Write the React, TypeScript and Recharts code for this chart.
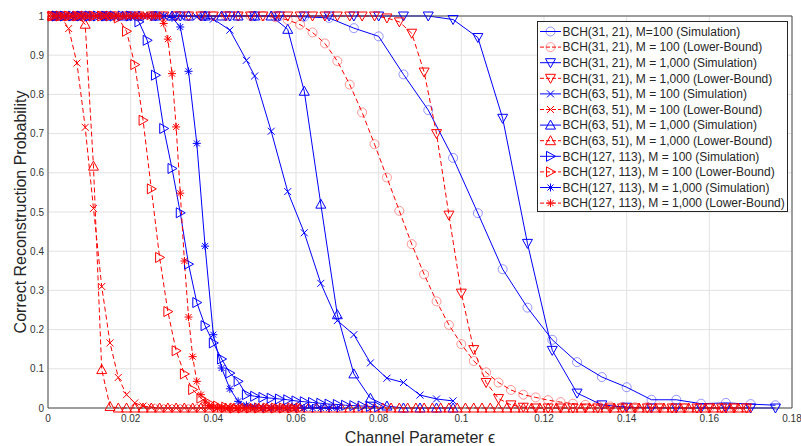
import React from 'react';
import { LineChart, Line, XAxis, YAxis, CartesianGrid, Legend, Label } from 'recharts';

const FONT = '"Liberation Sans", Arial, Helvetica, sans-serif';

// ---------- tick labels ----------
const xTicks = [0, 0.02, 0.04, 0.06, 0.08, 0.1, 0.12, 0.14, 0.16, 0.18];
const xTickLabels = ['0', '0.02', '0.04', '0.06', '0.08', '0.1', '0.12', '0.14', '0.16', '0.18'];
const yTicks = [0, 0.1, 0.2, 0.3, 0.4, 0.5, 0.6, 0.7, 0.8, 0.9, 1];
const yTickLabels = ['0', '0.1', '0.2', '0.3', '0.4', '0.5', '0.6', '0.7', '0.8', '0.9', '1'];

// ---------- x sampling grids ----------
const xsSimStep006 = [0.002, 0.008, 0.014, 0.020, 0.026, 0.032, 0.038, 0.044, 0.050, 0.056,
  0.062, 0.068, 0.074, 0.080, 0.086, 0.092, 0.098, 0.104, 0.110, 0.116,
  0.122, 0.128, 0.134, 0.140, 0.146, 0.152, 0.158, 0.164, 0.170, 0.176];

const xsBoundStep003 = [0.001, 0.004, 0.007, 0.010, 0.013, 0.016, 0.019, 0.022, 0.025, 0.028,
  0.031, 0.034, 0.037, 0.040, 0.043, 0.046, 0.049, 0.052, 0.055, 0.058,
  0.061, 0.064, 0.067, 0.070, 0.073, 0.076, 0.079, 0.082, 0.085, 0.088,
  0.091, 0.094, 0.097, 0.100, 0.103, 0.106, 0.109, 0.112, 0.115, 0.118,
  0.121, 0.124, 0.127, 0.130, 0.133, 0.136, 0.139, 0.142, 0.145, 0.148,
  0.151, 0.154, 0.157, 0.160, 0.163, 0.166, 0.169];

const xsBch63M100Sim = [0.004, 0.008, 0.012, 0.016, 0.020, 0.024, 0.028, 0.032, 0.036, 0.040,
  0.044, 0.048, 0.050, 0.054, 0.058, 0.062, 0.066, 0.070, 0.074, 0.078,
  0.082, 0.086, 0.090, 0.094, 0.098];

const xsOddTo061 = [0.001, 0.003, 0.005, 0.007, 0.009, 0.011, 0.013, 0.015, 0.017, 0.019,
  0.021, 0.023, 0.025, 0.027, 0.029, 0.031, 0.033, 0.035, 0.037, 0.039,
  0.041, 0.043, 0.045, 0.047, 0.049, 0.051, 0.053, 0.055, 0.057, 0.059,
  0.061];

const xsOddTo169 = [0.001, 0.003, 0.005, 0.007, 0.009, 0.011, 0.013, 0.015, 0.017, 0.019,
  0.021, 0.023, 0.025, 0.027, 0.029, 0.031, 0.033, 0.035, 0.037, 0.039,
  0.041, 0.043, 0.045, 0.047, 0.049, 0.051, 0.053, 0.055, 0.057, 0.059,
  0.061, 0.063, 0.065, 0.067, 0.069, 0.071, 0.073, 0.075, 0.077, 0.079,
  0.081, 0.083, 0.085, 0.087, 0.089, 0.091, 0.093, 0.095, 0.097, 0.099,
  0.101, 0.103, 0.105, 0.107, 0.109, 0.111, 0.113, 0.115, 0.117, 0.119,
  0.121, 0.123, 0.125, 0.127, 0.129, 0.131, 0.133, 0.135, 0.137, 0.139,
  0.141, 0.143, 0.145, 0.147, 0.149, 0.151, 0.153, 0.155, 0.157, 0.159,
  0.161, 0.163, 0.165, 0.167, 0.169];

const xsBch63M1000Sim = [0.002, 0.006, 0.010, 0.014, 0.018, 0.022, 0.026, 0.030, 0.034, 0.038,
  0.042, 0.046, 0.050, 0.054, 0.058, 0.062, 0.066, 0.070, 0.074, 0.078,
  0.082, 0.086, 0.090, 0.094, 0.098];

const xsEvenTo080 = [0.002, 0.004, 0.006, 0.008, 0.010, 0.012, 0.014, 0.016, 0.018, 0.020,
  0.022, 0.024, 0.026, 0.028, 0.030, 0.032, 0.034, 0.036, 0.038, 0.040,
  0.042, 0.044, 0.046, 0.048, 0.050, 0.052, 0.054, 0.056, 0.058, 0.060,
  0.062, 0.064, 0.066, 0.068, 0.070, 0.072, 0.074, 0.076, 0.078, 0.080];

const xsEvenTo070 = [0.002, 0.004, 0.006, 0.008, 0.010, 0.012, 0.014, 0.016, 0.018, 0.020,
  0.022, 0.024, 0.026, 0.028, 0.030, 0.032, 0.034, 0.036, 0.038, 0.040,
  0.042, 0.044, 0.046, 0.048, 0.050, 0.052, 0.054, 0.056, 0.058, 0.060,
  0.062, 0.064, 0.066, 0.068, 0.070];

const xsStep001 = [0.001, 0.002, 0.003, 0.004, 0.005, 0.006, 0.007, 0.008, 0.009, 0.010,
  0.011, 0.012, 0.013, 0.014, 0.015, 0.016, 0.017, 0.018, 0.019, 0.020,
  0.021, 0.022, 0.023, 0.024, 0.025, 0.026, 0.027, 0.028, 0.029, 0.030,
  0.031, 0.032, 0.033, 0.034, 0.035, 0.036, 0.037, 0.038, 0.039, 0.040,
  0.041, 0.042, 0.043, 0.044, 0.045, 0.046, 0.047, 0.048, 0.049, 0.050,
  0.051, 0.052, 0.053, 0.054, 0.055, 0.056, 0.057, 0.058, 0.059, 0.060];

// ---------- series values ----------
const ysBch31M100Sim = [1, 1, 1, 1, 1, 1, 1, 1, 1, 1,
  0.998, 0.995, 0.969, 0.948, 0.851, 0.760, 0.638, 0.497, 0.354, 0.256,
  0.174, 0.117, 0.079, 0.053, 0.021, 0.021, 0.011, 0.013, 0.010, 0.007];

const ysBch31M100Lb = [1, 1, 1, 1, 1, 1, 1, 1, 1, 1,
  1, 1, 1, 1, 1, 1, 1, 1, 0.997, 0.990,
  0.978, 0.958, 0.930, 0.885, 0.825, 0.754, 0.673, 0.588, 0.503, 0.418,
  0.341, 0.272, 0.212, 0.163, 0.120, 0.091, 0.065, 0.046, 0.034, 0.027,
  0.020, 0.015, 0.011, 0.008, 0.006, 0.004, 0.003, 0.002, 0.002, 0.001,
  0, 0, 0, 0, 0, 0, 0];

const ysBch31M1000Sim = [1, 1, 1, 1, 1, 1, 1, 1, 1, 1,
  1, 1, 1, 1, 1, 1, 0.991, 0.945, 0.739, 0.420,
  0.147, 0.038, 0.008, 0.002, 0, 0, 0, 0, 0, 0];

const ysBch31M1000Lb = [1, 1, 1, 1, 1, 1, 1, 1, 1, 1,
  1, 1, 1, 1, 1, 1, 1, 1, 1, 1,
  1, 1, 1, 1, 1, 1, 1, 0.995, 0.985, 0.956,
  0.857, 0.700, 0.492, 0.293, 0.149, 0.065, 0.024, 0.008, 0.002, 0,
  0, 0, 0, 0, 0, 0, 0, 0, 0, 0,
  0, 0, 0, 0, 0, 0, 0];

const ysBch63M100Sim = [1, 1, 1, 1, 1, 1, 1, 1, 0.998, 0.992,
  0.964, 0.887, 0.847, 0.706, 0.552, 0.447, 0.318, 0.223, 0.187, 0.115,
  0.076, 0.065, 0.033, 0.023, 0.018];

const ysBch63M100Lb = [1, 1, 0.968, 0.880, 0.716, 0.509, 0.310, 0.166, 0.078, 0.034,
  0.013, 0.005, 0.002, 0, 0, 0, 0, 0, 0, 0,
  0, 0, 0, 0, 0, 0, 0, 0, 0, 0,
  0];

const ysBch63M1000Sim = [1, 1, 1, 1, 1, 1, 1, 1, 1, 1,
  1, 1, 1, 1, 0.966, 0.808, 0.520, 0.238, 0.087, 0.025,
  0.005, 0, 0, 0, 0];

const ysBch63M1000Lb = [1, 1, 1, 1, 0.979, 0.617, 0.098, 0.004, 0, 0,
  0, 0, 0, 0, 0, 0, 0, 0, 0, 0,
  0, 0, 0, 0, 0, 0, 0, 0, 0, 0,
  0, 0, 0, 0, 0, 0, 0, 0, 0, 0,
  0, 0, 0, 0, 0, 0, 0, 0, 0, 0,
  0, 0, 0, 0, 0, 0, 0, 0, 0, 0,
  0, 0, 0, 0, 0, 0, 0, 0, 0, 0,
  0, 0, 0, 0, 0, 0, 0, 0, 0, 0,
  0, 0, 0, 0, 0];

const ysBch127M100Sim = [1, 1, 1, 1, 1, 1, 1, 1, 1, 1,
  0.985, 0.938, 0.849, 0.713, 0.611, 0.498, 0.367, 0.269, 0.210, 0.166,
  0.125, 0.089, 0.068, 0.034, 0.030, 0.027, 0.025, 0.023, 0.021, 0.018,
  0.016, 0.014, 0.012, 0.010, 0.009, 0.007, 0.006, 0.005, 0.004, 0.003];

const ysBch127M100Lb = [1, 1, 1, 1, 1, 1, 1, 1, 0.995, 0.961,
  0.876, 0.734, 0.559, 0.384, 0.246, 0.146, 0.087, 0.047, 0.025, 0.012,
  0.005, 0.002, 0, 0, 0, 0, 0, 0, 0, 0,
  0];

const ysBch127M1000Sim = [1, 1, 1, 1, 1, 1, 1, 1, 1, 1,
  1, 1, 1, 1, 0.996, 0.972, 0.859, 0.675, 0.413, 0.187,
  0.102, 0.049, 0.017, 0.007, 0.003, 0, 0, 0, 0, 0,
  0, 0, 0, 0, 0];

const ysBch127M1000Lb = [1, 1, 1, 1, 1, 1, 1, 1, 1, 1,
  1, 1, 1, 1, 1, 1, 1, 1, 1, 1,
  1, 1, 1, 1, 1, 1, 1, 0.981, 0.941, 0.853,
  0.717, 0.548, 0.375, 0.232, 0.131, 0.068, 0.034, 0.015, 0.006, 0.002,
  0, 0, 0, 0, 0, 0, 0, 0, 0, 0,
  0, 0, 0, 0, 0, 0, 0, 0, 0, 0];

const seriesNames = [
  'BCH(31, 21), M=100 (Simulation)',
  'BCH(31, 21), M = 100 (Lower-Bound)',
  'BCH(31, 21), M = 1,000 (Simulation)',
  'BCH(31, 21), M = 1,000 (Lower-Bound)',
  'BCH(63, 51), M = 100 (Simulation)',
  'BCH(63, 51), M = 100 (Lower-Bound)',
  'BCH(63, 51), M = 1,000 (Simulation)',
  'BCH(63, 51), M = 1,000 (Lower-Bound)',
  'BCH(127, 113), M = 100 (Simulation)',
  'BCH(127, 113), M = 100 (Lower-Bound)',
  'BCH(127, 113), M = 1,000 (Simulation)',
  'BCH(127, 113), M = 1,000 (Lower-Bound)',
];

const seriesXs = [xsSimStep006, xsBoundStep003, xsSimStep006, xsBoundStep003,
  xsBch63M100Sim, xsOddTo061, xsBch63M1000Sim, xsOddTo169,
  xsEvenTo080, xsOddTo061, xsEvenTo070, xsStep001];
const seriesYs = [ysBch31M100Sim, ysBch31M100Lb, ysBch31M1000Sim, ysBch31M1000Lb,
  ysBch63M100Sim, ysBch63M100Lb, ysBch63M1000Sim, ysBch63M1000Lb,
  ysBch127M100Sim, ysBch127M100Lb, ysBch127M1000Sim, ysBch127M1000Lb];

// ---------- styles (kept apart from the data) ----------
const BLUE = '#0000ff';
const RED = '#ff0000';
type Shape = 'o' | 'v' | '^' | '>' | 'x' | '*';
const seriesStyles: { shape: Shape; color: string; dashed: boolean; markerOpacity: number }[] = [
  { shape: 'o', color: BLUE, dashed: false, markerOpacity: 0.4 },
  { shape: 'o', color: RED, dashed: true, markerOpacity: 0.4 },
  { shape: 'v', color: BLUE, dashed: false, markerOpacity: 1 },
  { shape: 'v', color: RED, dashed: true, markerOpacity: 1 },
  { shape: 'x', color: BLUE, dashed: false, markerOpacity: 1 },
  { shape: 'x', color: RED, dashed: true, markerOpacity: 1 },
  { shape: '^', color: BLUE, dashed: false, markerOpacity: 1 },
  { shape: '^', color: RED, dashed: true, markerOpacity: 1 },
  { shape: '>', color: BLUE, dashed: false, markerOpacity: 1 },
  { shape: '>', color: RED, dashed: true, markerOpacity: 1 },
  { shape: '*', color: BLUE, dashed: false, markerOpacity: 1 },
  { shape: '*', color: RED, dashed: true, markerOpacity: 1 },
];
const DASH = '5 3';

const seriesData = seriesXs.map((xs, s) => xs.map((x, i) => ({ x, y: seriesYs[s][i] })));

function Marker({ shape, cx, cy, color, opacity }: { shape: Shape; cx: number; cy: number; color: string; opacity: number }) {
  const common = { fill: 'none', stroke: color, strokeWidth: 1, strokeOpacity: opacity };
  switch (shape) {
    case 'o':
      return <circle cx={cx} cy={cy} r={4.5} {...common} />;
    case 'v':
      return <polygon points={`${cx - 5},${cy - 4} ${cx + 5},${cy - 4} ${cx},${cy + 5}`} {...common} />;
    case '^':
      return <polygon points={`${cx - 5},${cy + 4} ${cx + 5},${cy + 4} ${cx},${cy - 5}`} {...common} />;
    case '>':
      return <polygon points={`${cx - 4},${cy - 5} ${cx - 4},${cy + 5} ${cx + 5},${cy}`} {...common} />;
    case 'x':
      return <path d={`M${cx - 3.5},${cy - 3.5}L${cx + 3.5},${cy + 3.5}M${cx - 3.5},${cy + 3.5}L${cx + 3.5},${cy - 3.5}`} {...common} />;
    default:
      return (
        <path
          d={`M${cx - 4},${cy}L${cx + 4},${cy}M${cx},${cy - 4}L${cx},${cy + 4}M${cx - 3},${cy - 3}L${cx + 3},${cy + 3}M${cx - 3},${cy + 3}L${cx + 3},${cy - 3}`}
          {...common}
        />
      );
  }
}

const renderLegend = () => (
  <svg width={252} height={192} style={{ display: 'block', overflow: 'visible' }}>
    <rect x={0.5} y={0.5} width={250} height={190} fill="#ffffff" stroke="#262626" strokeWidth={1} />
    {seriesNames.map((name, i) => {
      const st = seriesStyles[i];
      const cy = 10.5 + i * 15.6;
      return (
        <g key={name}>
          <line x1={3} x2={24} y1={cy} y2={cy} stroke={st.color} strokeWidth={1} strokeDasharray={st.dashed ? '4 2' : undefined} />
          <Marker shape={st.shape} cx={13.5} cy={cy} color={st.color} opacity={st.markerOpacity} />
          <text x={25.5} y={cy + 4.3} fontSize={12} fill="#262626" fontFamily={FONT}>{name}</text>
        </g>
      );
    })}
  </svg>
);

const XTitle = (props: any) => {
  const vb = props.viewBox || { x: 48, y: 408, width: 744, height: 38 };
  return (
    <text x={vb.x + vb.width / 2} y={vb.y + 34.7} textAnchor="middle" fontSize={16} fill="#262626" fontFamily={FONT}>
      Channel Parameter ϵ
    </text>
  );
};

const YTitle = (props: any) => {
  const vb = props.viewBox || { x: 0, y: 16, width: 48, height: 392 };
  const x = vb.x + 26;
  const y = vb.y + vb.height / 2;
  return (
    <text x={x} y={y} transform={`rotate(-90 ${x} ${y})`} textAnchor="middle" fontSize={16} fill="#262626" fontFamily={FONT}>
      Correct Reconstruction Probability
    </text>
  );
};

const AXIS = '#4a4a4a';

export default function App() {
  return (
    <div style={{ position: 'absolute', left: 0, top: 0, width: 801, height: 446, background: '#ffffff' }}>
      <LineChart width={801} height={446} margin={{ top: 16, right: 9, bottom: 0, left: 0 }}>
        <CartesianGrid stroke="#e2e2e2" strokeWidth={1} />
        <XAxis
          dataKey="x"
          type="number"
          domain={[0, 0.18]}
          ticks={xTicks}
          tickFormatter={(v: number, i: number) => xTickLabels[i] ?? String(v)}
          height={38}
          tickSize={0}
          tickMargin={7}
          tickLine={false}
          axisLine={{ stroke: AXIS, strokeWidth: 1 }}
          tick={{ fontSize: 10, fill: '#333333', fontFamily: FONT }}
          interval={0}
        >
          <Label content={<XTitle />} />
        </XAxis>
        <XAxis
          xAxisId="top"
          orientation="top"
          dataKey="x"
          type="number"
          domain={[0, 0.18]}
          ticks={xTicks}
          mirror
          tickSize={4}
          tickFormatter={() => ''}
          tickLine={{ stroke: AXIS }}
          axisLine={{ stroke: AXIS, strokeWidth: 1 }}
          interval={0}
        />
        <YAxis
          type="number"
          domain={[0, 1]}
          ticks={yTicks}
          tickFormatter={(v: number, i: number) => yTickLabels[i] ?? String(v)}
          width={48}
          tickSize={0}
          tickMargin={4}
          tickLine={false}
          axisLine={{ stroke: AXIS, strokeWidth: 1 }}
          tick={{ fontSize: 10, fill: '#333333', fontFamily: FONT }}
          interval={0}
        >
          <Label content={<YTitle />} />
        </YAxis>
        <YAxis
          yAxisId="right"
          orientation="right"
          type="number"
          domain={[0, 1]}
          ticks={yTicks}
          mirror
          tickSize={4}
          tickFormatter={() => ''}
          tickLine={{ stroke: AXIS }}
          axisLine={{ stroke: AXIS, strokeWidth: 1 }}
          interval={0}
        />
        {seriesData.map((data, s) => {
          const st = seriesStyles[s];
          return (
            <Line
              key={seriesNames[s]}
              data={data}
              dataKey="y"
              name={seriesNames[s]}
              type="linear"
              stroke={st.color}
              strokeWidth={1}
              strokeDasharray={st.dashed ? DASH : undefined}
              isAnimationActive={false}
              activeDot={false}
              dot={(p: any) => (
                <Marker key={`m-${s}-${p.index}`} shape={st.shape} cx={p.cx} cy={p.cy} color={st.color} opacity={st.markerOpacity} />
              )}
            />
          );
        })}
        <Legend
          layout="vertical"
          align="center"
          verticalAlign="middle"
          content={renderLegend}
          wrapperStyle={{ position: 'absolute', left: 537, top: 21, width: 252, height: 192 }}
        />
      </LineChart>
    </div>
  );
}
